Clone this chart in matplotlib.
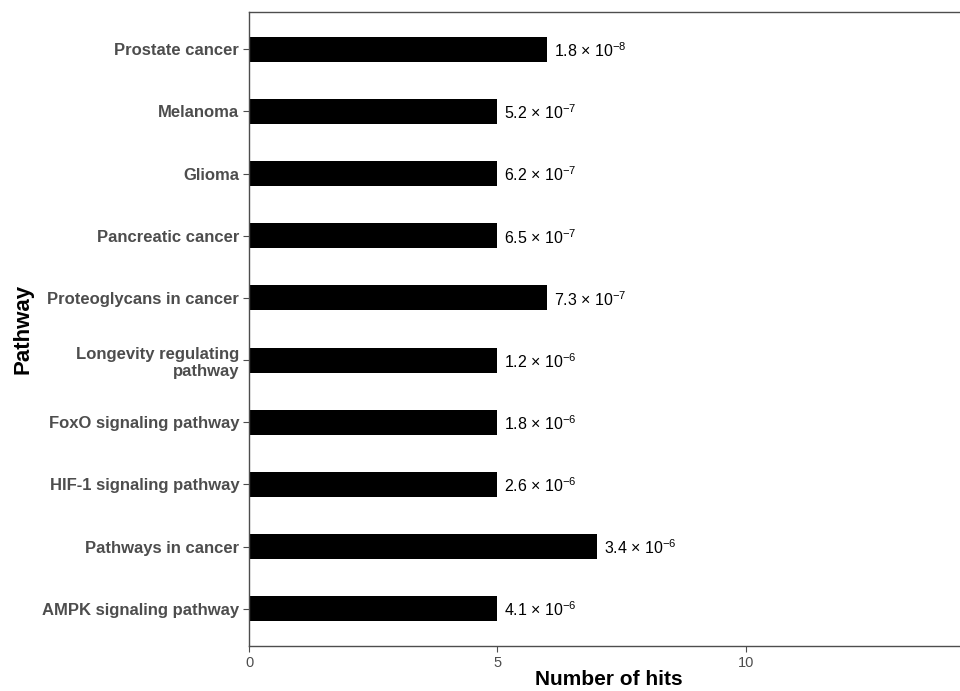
import matplotlib.pyplot as plt
import numpy as np

plt.rcParams["font.family"] = ["Liberation Sans", "DejaVu Sans"]
plt.rcParams["mathtext.fontset"] = "custom"
plt.rcParams["mathtext.rm"] = "Liberation Sans"
plt.rcParams["mathtext.it"] = "Liberation Sans:italic"
plt.rcParams["mathtext.bf"] = "Liberation Sans:bold"

# bottom to top
pathways = [
    "AMPK signaling pathway",
    "Pathways in cancer",
    "HIF-1 signaling pathway",
    "FoxO signaling pathway",
    "Longevity regulating\npathway",
    "Proteoglycans in cancer",
    "Pancreatic cancer",
    "Glioma",
    "Melanoma",
    "Prostate cancer",
]
hits = [5, 7, 5, 5, 5, 6, 5, 5, 5, 6]
p_mantissa = ["4.1", "3.4", "2.6", "1.8", "1.2", "7.3", "6.5", "6.2", "5.2", "1.8"]
p_exponent = [-6, -6, -6, -6, -6, -7, -7, -7, -7, -8]

GREY = "#4d4d4d"

fig = plt.figure(figsize=(9.6, 6.91), dpi=100)
ax = fig.add_axes([249 / 960, 45 / 691, 1 - 249 / 960 + 0.01, (646 - 12) / 691])

y = np.arange(1, len(pathways) + 1)
ax.barh(y, hits, height=0.4, color="black")

for yi, h, m, e in zip(y, hits, p_mantissa, p_exponent, strict=True):
    ax.annotate(
        f"{m} × 10$^{{{e}}}$",
        xy=(h, yi),
        xytext=(5, -1),
        textcoords="offset points",
        va="center",
        ha="left",
        fontsize=11.5,
        color="black",
    )

ax.set_xlim(0, 14.5)
ax.set_ylim(0.4, len(pathways) + 0.6)
ax.set_yticks(y)
ax.set_yticklabels(pathways, fontweight="bold", fontsize=12, color=GREY, ha="right", multialignment="right")
ax.set_xticks([0, 5, 10])
ax.tick_params(axis="x", labelsize=10.5, labelcolor=GREY, colors=GREY, length=4, width=0.8)
ax.tick_params(axis="y", colors=GREY, length=4, width=0.8, pad=3)

for side in ["left", "bottom", "top"]:
    ax.spines[side].set_color(GREY)
    ax.spines[side].set_linewidth(1.0)
ax.spines["right"].set_visible(False)

ax.set_xlabel("Number of hits", fontsize=15, fontweight="bold", labelpad=0)
ax.set_ylabel("Pathway", fontsize=16, fontweight="bold", labelpad=6)

fig.savefig("out.png", dpi=100)
